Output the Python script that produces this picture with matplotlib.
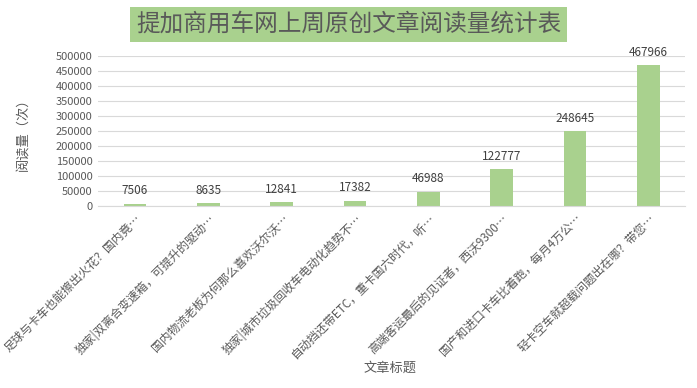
import matplotlib
matplotlib.use("Agg")
import matplotlib.pyplot as plt

plt.rcParams['font.family'] = ['Noto Sans CJK SC', 'DejaVu Sans']

# data
titles = ['足球与卡车也能擦出火花？国内竟…',
          '独家|双离合变速箱，可提升的驱动…',
          '国内物流老板为何那么喜欢沃尔沃…',
          '独家|城市垃圾回收车电动化趋势不…',
          '自动挡还带ETC，重卡国六时代，听…',
          '高端客运最后的见证者，西沃9300…',
          '国产和进口卡车比着跑，每月4万公…',
          '轻卡空车就超载问题出在哪？带您…']
reads = [7506, 8635, 12841, 17382, 46988, 122777, 248645, 467966]
yticks = list(range(0, 500001, 50000))

bar_color = '#a9d18e'
text_color = '#595959'

fig = plt.figure(figsize=(6.97, 3.88), dpi=100)
ax = fig.add_axes([0.141, 0.469, 0.842, 0.387])

x = range(len(reads))
bars = ax.bar(x, reads, width=0.31, color=bar_color, zorder=2)
for xi, v in zip(x, reads):
    ax.text(xi, v + 22000, str(v), ha='center', va='bottom', fontsize=8.5, color='#404040')

ax.set_xlim(-0.5, len(reads) - 0.5)
ax.set_ylim(0, 500000)
ax.set_yticks(yticks)
ax.set_yticklabels([str(t) for t in yticks], fontsize=8, color=text_color)
ax.set_xticks(list(x))
ax.set_xticklabels(titles, rotation=45, ha='right', rotation_mode='anchor',
                   fontsize=8.5, color=text_color)
ax.tick_params(axis='both', length=0, pad=4)
ax.grid(axis='y', color='#d9d9d9', linewidth=0.8, zorder=0)
for s in ['top', 'right', 'left']:
    ax.spines[s].set_visible(False)
ax.spines['bottom'].set_color('#d9d9d9')

ax.set_ylabel('阅读量（次）', fontsize=9.5, color=text_color, labelpad=18)
fig.text(0.56, 0.052, '文章标题', ha='center', va='center', fontsize=9.5, color=text_color)

fig.text(0.5, 0.937, '提加商用车网上周原创文章阅读量统计表', ha='center', va='center',
         fontsize=17, color='#595959',
         bbox=dict(boxstyle='square,pad=0.25', facecolor=bar_color, edgecolor='none'))

fig.savefig('out.png', dpi=100)
